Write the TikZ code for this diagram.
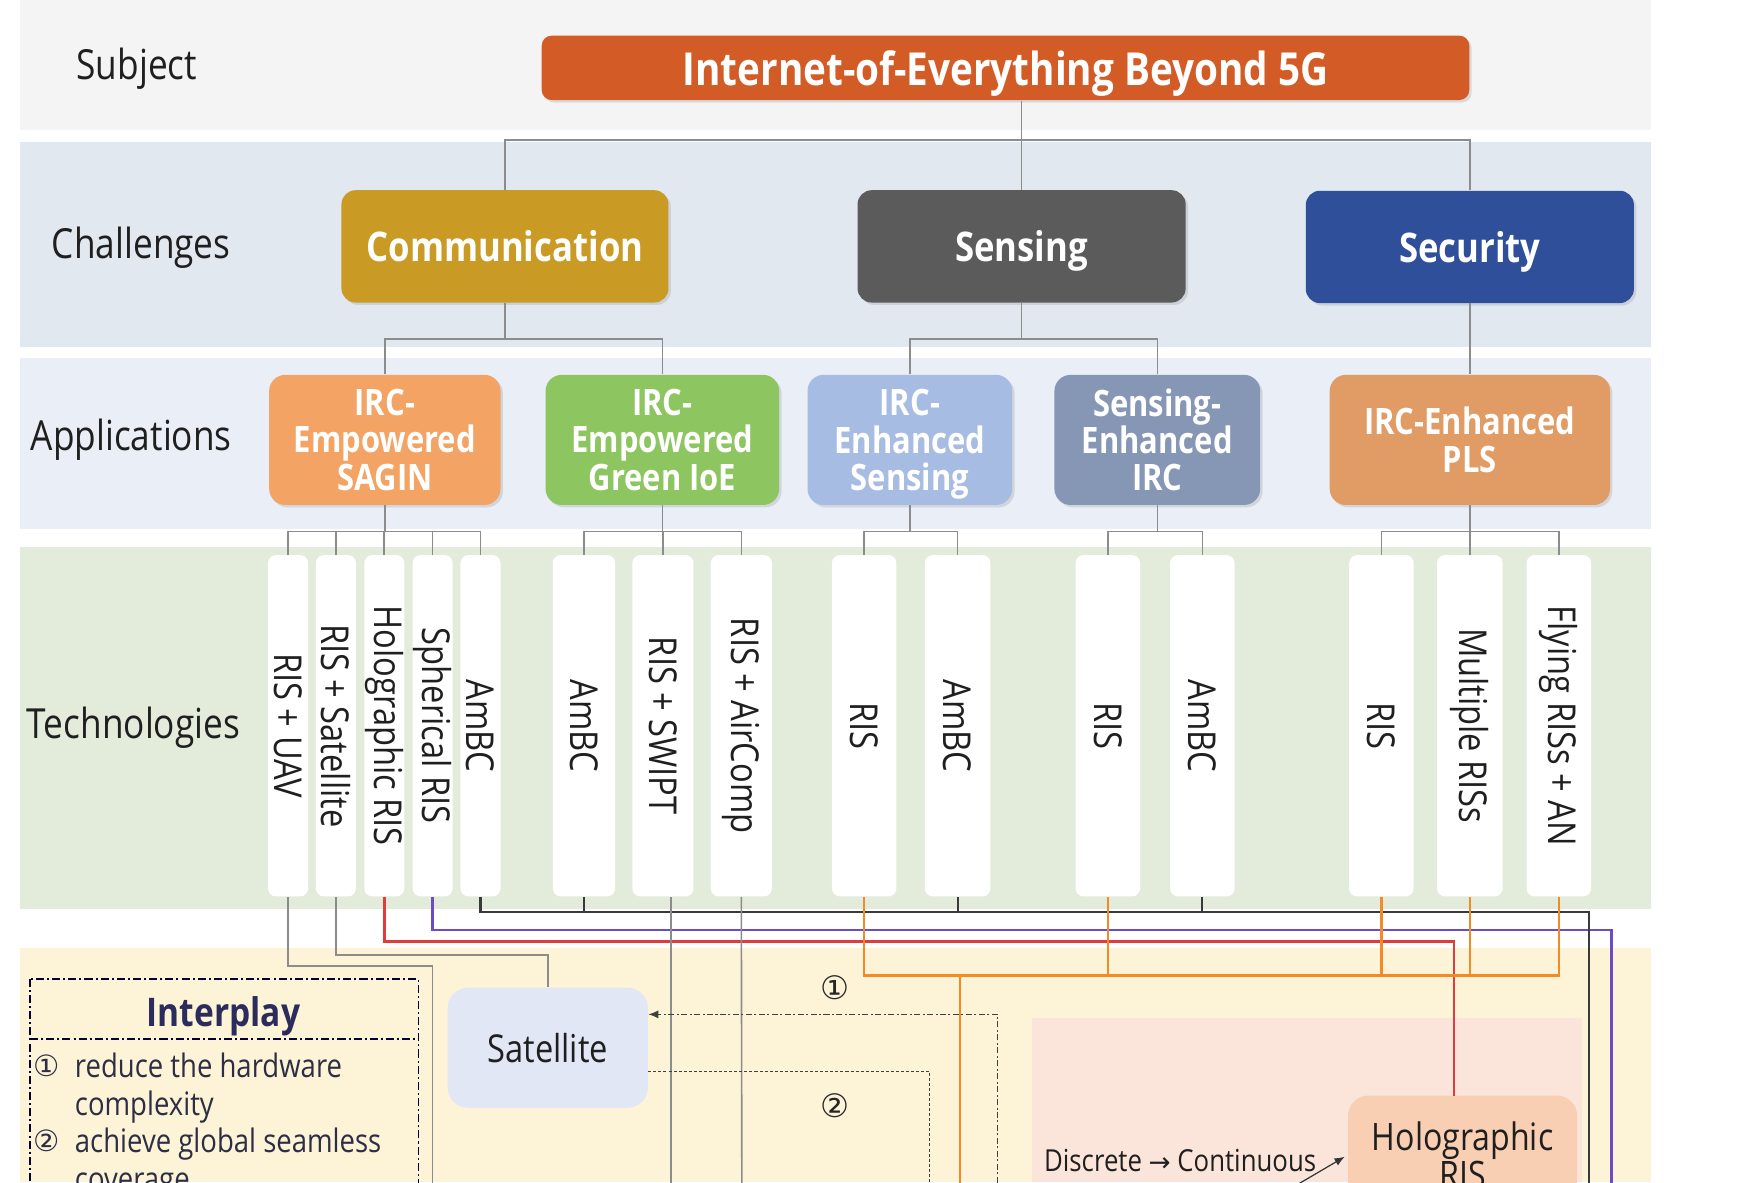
\documentclass[tikz,border=0pt]{standalone}
\usepackage{fontspec}
\setmainfont{Open Sans}[FakeStretch=0.85]
\newfontfamily\dejavu{DejaVu Sans}
\usetikzlibrary{shadows,arrows.meta,calc}

\definecolor{titlec}{HTML}{D35B26}
\definecolor{commc}{HTML}{C99B24}
\definecolor{sensc}{HTML}{5B5B5B}
\definecolor{secc}{HTML}{2F4F9B}
\definecolor{sagc}{HTML}{F3A364}
\definecolor{grnc}{HTML}{8DC560}
\definecolor{iesc}{HTML}{A7BCE3}
\definecolor{seic}{HTML}{8697B6}
\definecolor{plsc}{HTML}{E19B64}
\definecolor{satc}{HTML}{E2E7F6}
\definecolor{holoc}{HTML}{F8CFB3}
\definecolor{bandS}{HTML}{F4F4F4}
\definecolor{bandC}{HTML}{E2E8F0}
\definecolor{bandA}{HTML}{E9EEF7}
\definecolor{bandT}{HTML}{E3EBDA}
\definecolor{bandB}{HTML}{FDF3D7}
\definecolor{bandP}{HTML}{FBE5DA}
\definecolor{lineg}{HTML}{8C8C8C}
\definecolor{lined}{HTML}{3A3A3A}
\definecolor{linep}{HTML}{6A4CC6}
\definecolor{liner}{HTML}{E23B3B}
\definecolor{lineo}{HTML}{F28B26}
\definecolor{navy}{HTML}{2B2C5C}
\definecolor{itemc}{HTML}{2D2D44}
\definecolor{labelc}{HTML}{1F1F1F}

\newcommand\pxu{0.55pt}
\newcommand\nodepth[1]{\raisebox{0pt}[\height][0pt]{#1}}

\tikzset{
  lbl/.style={font=\fontsize{20.5}{24}\selectfont, text=labelc, inner sep=0pt, text depth=0pt},
  softshadow/.style={drop shadow={shadow xshift=1.2pt, shadow yshift=-1.2pt, opacity=0.22}},
  titlebox/.style={fill=titlec, rounded corners=5pt, text=white, inner sep=0pt, text depth=0pt,
    font=\bfseries\fontsize{22.5}{26}\selectfont, softshadow},
  chbox/.style={rounded corners=7pt, text=white, inner sep=0pt, text depth=0pt,
    font=\bfseries\fontsize{20.2}{24}\selectfont, minimum height=101*\pxu, softshadow},
  apbox/.style={rounded corners=8pt, text=white, align=center, inner sep=0pt,
    font=\bfseries\fontsize{18}{18.4}\selectfont, minimum height=117*\pxu, softshadow},
  techbar/.style={fill=white, rounded corners=4pt, rotate=-90, inner sep=0pt,
    minimum width=307*\pxu, font=\fontsize{19}{22}\selectfont, text=labelc},
  conn/.style={draw=lineg, line width=0.8pt},
  darkl/.style={draw=lined, line width=1pt},
  purl/.style={draw=linep, line width=1.2pt},
  redl/.style={draw=liner, line width=1.2pt},
  orl/.style={draw=lineo, line width=1.2pt},
  dashone/.style={draw=black!75, line width=0.6pt, dash pattern=on 3pt off 1.2pt on 1pt off 1.2pt},
  dashtwo/.style={draw=black!75, line width=0.6pt, dash pattern=on 1.5pt off 1pt},
  ibox/.style={draw=black!80!blue, line width=0.7pt, dash pattern=on 4pt off 1.5pt on 1pt off 1.5pt},
  numl/.style={font=\dejavu\fontsize{16}{18}\selectfont, text=black!85, inner sep=0pt},
  itemt/.style={anchor=west, align=left, inner sep=0pt, text=itemc,
    font=\fontsize{16}{18.7}\selectfont},
}

\begin{document}
\begin{tikzpicture}[x=0.55pt, y=-0.55pt]
\useasboundingbox (0,0) rectangle (1568,1063);
\clip (0,0) rectangle (1568,1063);
\fill[white] (0,0) rectangle (1568,1063);

% bands
\fill[bandS] (18,0) rectangle (1484,117);
\fill[bandC] (18,128) rectangle (1484,312);
\fill[bandA] (18,322) rectangle (1484,476);
\fill[bandT] (18,492) rectangle (1484,817);
\fill[bandB] (18,852) rectangle (1484,1063);
\fill[bandP] (928,915) rectangle (1422,1063);

% row labels
\node[lbl] (lS) at (123,57) {Subject};
\node[lbl] (lC) at (127,218) {Challenges};
\node[lbl] (lA) at (118,391) {Applications};
\node[lbl] (lT) at (120,650) {Technologies};

% subject
\node[titlebox, minimum width=834*\pxu, minimum height=58*\pxu] (title) at (904,61)
  {Internet-of-Everything Beyond 5G};

% challenges
\node[chbox, fill=commc, minimum width=294*\pxu] (comm) at (454,221.5) {Communication};
\node[chbox, fill=sensc, minimum width=295*\pxu] (sens) at (918.5,221.5) {Sensing};
\node[chbox, fill=secc, minimum width=295*\pxu] (sec) at (1321.5,222) {Security};

% applications
\node[apbox, fill=sagc, minimum width=208*\pxu] (sag) at (346,395.5) {IRC-\\Empowered\\SAGIN};
\node[apbox, fill=grnc, minimum width=210*\pxu] (grn) at (595.5,395.5) {IRC-\\Empowered\\Green IoE};
\node[apbox, fill=iesc, minimum width=184*\pxu] (ies) at (818,395.5) {IRC-\\Enhanced\\\nodepth{Sensing}};
\node[apbox, fill=seic, minimum width=185*\pxu] (sei) at (1040.5,395.5) {Sensing-\\Enhanced\\IRC};
\node[apbox, fill=plsc, minimum width=252*\pxu] (pls) at (1321.5,395.5) {IRC-Enhanced\\PLS};

% technologies
\node[techbar, minimum height=36*\pxu] (t1) at (259,652.5) {RIS + UAV};
\node[techbar, minimum height=36*\pxu] (t2) at (302,652.5) {RIS + Satellite};
\node[techbar, minimum height=36*\pxu] (t3) at (345.5,652.5) {Holographic RIS};
\node[techbar, minimum height=36*\pxu] (t4) at (389,652.5) {Spherical RIS};
\node[techbar, minimum height=36*\pxu] (t5) at (432,652.5) {AmBC};
\node[techbar, minimum height=56*\pxu] (t6) at (525,652.5) {AmBC};
\node[techbar, minimum height=55*\pxu] (t7) at (596,652.5) {RIS + SWIPT};
\node[techbar, minimum height=55*\pxu] (t8) at (666.5,652.5) {RIS + AirComp};
\node[techbar, minimum height=58*\pxu] (t9) at (777,652.5) {RIS};
\node[techbar, minimum height=59*\pxu] (t10) at (861,652.5) {AmBC};
\node[techbar, minimum height=58*\pxu] (t11) at (996,652.5) {RIS};
\node[techbar, minimum height=58*\pxu] (t12) at (1081,652.5) {AmBC};
\node[techbar, minimum height=58*\pxu] (t13) at (1242,652.5) {RIS};
\node[techbar, minimum height=59*\pxu] (t14) at (1321.5,652.5) {Multiple RISs};
\node[techbar, minimum height=58*\pxu] (t15) at (1401.5,652.5) {Flying RISs + AN};

% bottom boxes
\node[fill=satc, rounded corners=10pt, minimum width=180*\pxu, minimum height=108*\pxu,
  inner sep=0pt, text=labelc, font=\fontsize{19}{22}\selectfont] (sat) at (492.5,942) {Satellite};
\node[fill=holoc, rounded corners=10pt, minimum width=206*\pxu, minimum height=108*\pxu,
  inner sep=0pt, align=center, text=labelc, font=\fontsize{18.7}{18.7}\selectfont] (holo) at (1315,1039)
  {Holographic\\RIS};

% connectors: subject -> challenges
\coordinate (j0) at (919,126);
\draw[conn] (title.south -| sens.north) -- (sens.north);
\draw[conn] (comm.north) -- (comm.north |- j0) -- (sec.north |- j0) -- (sec.north);

% challenges -> applications
\coordinate (j1) at (0,305);
\draw[conn] (comm.south) -- (comm.south |- j1);
\draw[conn] (sag.north) -- (sag.north |- j1) -- (grn.north |- j1) -- (grn.north);
\draw[conn] (sens.south) -- (sens.south |- j1);
\draw[conn] (ies.north) -- (ies.north |- j1) -- (sei.north |- j1) -- (sei.north);
\draw[conn] (sec.south) -- (pls.north);

% applications -> technologies
\coordinate (j2) at (0,478);
\draw[conn] (sag.south) -- (sag.south |- j2);
\draw[conn] (t1.west) -- (t1.west |- j2) -- (t5.west |- j2) -- (t5.west);
\foreach \t in {t2,t3,t4} \draw[conn] (\t.west) -- (\t.west |- j2);
\draw[conn] (grn.south) -- (grn.south |- j2);
\draw[conn] (t6.west) -- (t6.west |- j2) -- (t8.west |- j2) -- (t8.west);
\draw[conn] (t7.west) -- (t7.west |- j2);
\draw[conn] (ies.south) -- (ies.south |- j2);
\draw[conn] (t9.west) -- (t9.west |- j2) -- (t10.west |- j2) -- (t10.west);
\draw[conn] (sei.south) -- (sei.south |- j2);
\draw[conn] (t11.west) -- (t11.west |- j2) -- (t12.west |- j2) -- (t12.west);
\draw[conn] (pls.south) -- (pls.south |- j2);
\draw[conn] (t13.west) -- (t13.west |- j2) -- (t15.west |- j2) -- (t15.west);
\draw[conn] (t14.west) -- (t14.west |- j2);

% technologies -> interplay
\coordinate (e1) at (389,1075);
\draw[conn] (t1.east) -- ++(0,62) -| (e1);
\draw[conn] (t2.east) -- ++(0,52) -| (sat.north);
\coordinate (hr) at (1307,985);
\draw[redl] (t3.east) -- ++(0,40) -| (hr);
\coordinate (e4) at (1449,1075);
\draw[purl] (t4.east) -- ++(0,30) -| (e4);
\coordinate (e5) at (1429,1075);
\draw[darkl] (t5.east) -- ++(0,14) -| (e5);
\foreach \t in {t6,t10,t12} \draw[darkl] (\t.east) -- ++(0,14);
\coordinate (e7) at (603,1075);
\draw[conn] (t7.east -| e7) -- (e7);
\coordinate (e8) at (667,1075);
\draw[conn] (t8.east) -- (e8);
\coordinate (o1) at (0,877);
\draw[orl] (t9.east) -- (t9.east |- o1) -- (t15.east |- o1) -- (t15.east);
\foreach \t in {t11,t13,t14} \draw[orl] (\t.east) -- (\t.east |- o1);
\coordinate (e9) at (863,1075);
\draw[orl] (e9 |- o1) -- (e9);

% dashed interplay links
\coordinate (d1) at (897,1075);
\coordinate (d1c) at (897,912);
\draw[dashone, -{Latex[length=5pt,width=4pt]}] (d1) -- (d1c) -- (d1c -| sat.east);
\coordinate (d2) at (836,1075);
\coordinate (d2c) at (836,963);
\draw[dashtwo] (d2c -| sat.east) -- (d2c) -- (d2);
\node[numl] (n1) at (751,888) {①};
\node[numl] (n2) at (751,994) {②};

% discrete -> continuous
\node[inner sep=0pt, text=labelc, font=\fontsize{15}{18}\selectfont] (disc) at (1061,1043)
  {Discrete {\dejavu\fontsize{13}{14}\selectfont →} Continuous};
\coordinate (a0) at (1158,1070);
\coordinate (a1) at (1209,1040);
\draw[black!80, line width=0.6pt, -{Latex[length=5pt,width=4pt]}] (a0) -- (a1);

% interplay legend
\draw[ibox] (27,880) rectangle (376,1090);
\draw[ibox] (27,934) -- (376,934);
\node[inner sep=0pt, text=navy, text depth=0pt, font=\bfseries\fontsize{19.5}{22}\selectfont] (ipt) at (201,909) {Interplay};
\node[numl, font=\dejavu\fontsize{14.5}{16}\selectfont, text=itemc] (c1) at (42,958) {①};
\node[itemt] (i1) at (67,978.5) {reduce the hardware\\complexity};
\node[numl, font=\dejavu\fontsize{14.5}{16}\selectfont, text=itemc] (c2) at (42,1026) {②};
\node[itemt] (i2) at (67,1045.5) {achieve global seamless\\coverage};
\end{tikzpicture}
\end{document}
